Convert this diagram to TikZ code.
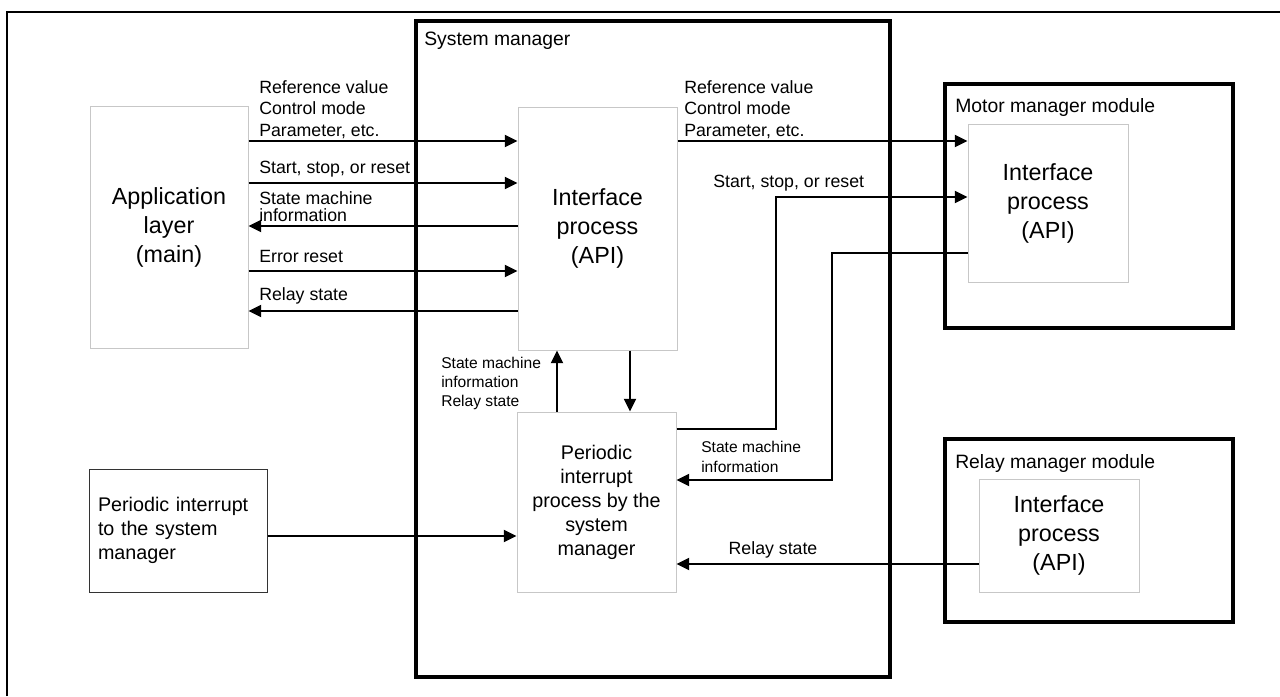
\documentclass[tikz,border=0pt]{standalone}
\usepackage{fontspec}
\setmainfont{Liberation Sans}
\usetikzlibrary{arrows.meta,fit}
\begin{document}
\begin{tikzpicture}[x=0.75pt,y=-0.75pt,
  arr/.style={line width=1.4pt,-{Triangle[length=9.5pt,width=9pt]}},
  heavybox/.style={draw,line width=3.2pt,inner sep=0pt},
  lightbox/.style={draw=black!22,line width=0.75pt,align=center},
  bigtxt/.style={font=\fontsize{17.5pt}{21.75pt}\selectfont},
  midtxt/.style={font=\fontsize{14.8pt}{18pt}\selectfont},
  ttl/.style={inner sep=0pt,anchor=west,font=\fontsize{14.5pt}{17pt}\selectfont},
  lbl/.style={inner sep=0pt,anchor=west,align=left,font=\fontsize{13.3pt}{16.1pt}\selectfont},
  smalllbl/.style={inner sep=0pt,anchor=west,align=left,font=\fontsize{11.7pt}{14.25pt}\selectfont}
]
\useasboundingbox (0,0) rectangle (1280,696);
\fill[white] (0,0) rectangle (1280,696);
\draw[line width=1.8pt] (7,696) -- (7,12) -- (1280,12);

% heavy frames
\node[heavybox,fit={(416,21) (890,677)}] (sys) {};
\node[heavybox,fit={(945,84) (1233,328)}] (motor) {};
\node[heavybox,fit={(945,439) (1233,622)}] (relay) {};
\node[ttl] (systtl) at (424,41) {System manager};
\node[ttl] (mottl) at (955,108) {Motor manager module};
\node[ttl] (reltl) at (955,463) {Relay manager module};

% boxes
\node[lightbox,bigtxt,minimum width=118.5pt,minimum height=181.5pt] (app) at (169,227) {Application\\layer\\(main)};
\node[lightbox,bigtxt,minimum width=119.25pt,minimum height=182.25pt] (iface) at (597.5,228.5) {Interface\\process\\(API)};
\node[lightbox,midtxt,minimum width=119.25pt,minimum height=135pt] (per) at (596.5,502) {Periodic\\interrupt\\process by the\\system\\manager};
\node[draw=black!80,line width=0.75pt,midtxt,align=left,text width=120pt,inner xsep=6.75pt,minimum height=92.25pt] (pint) at (178,530.5) {Periodic interrupt\\to the system\\manager};
\node[lightbox,bigtxt,minimum width=120pt,minimum height=118.5pt] (mif) at (1048,203) {Interface\\process\\(API)};
\node[lightbox,bigtxt,minimum width=120pt,minimum height=84.75pt] (rif) at (1059,535.5) {Interface\\process\\(API)};

% helper levels
\coordinate (r1) at (0,141);
\coordinate (r2) at (0,183);
\coordinate (r3) at (0,226);
\coordinate (r4) at (0,271);
\coordinate (r5) at (0,311);
\coordinate (m2) at (0,197);
\coordinate (m3) at (0,253);
\coordinate (k1) at (776,429);
\coordinate (k2) at (832,480);
\coordinate (u) at (557,0);
\coordinate (d) at (630,0);
\coordinate (pi) at (0,536);
\coordinate (rl) at (0,564);

% connectors
\draw[arr] (app.east |- r1) -- (iface.west |- r1);
\draw[arr] (app.east |- r2) -- (iface.west |- r2);
\draw[arr] (iface.west |- r3) -- (app.east |- r3);
\draw[arr] (app.east |- r4) -- (iface.west |- r4);
\draw[arr] (iface.west |- r5) -- (app.east |- r5);
\draw[arr] (iface.east |- r1) -- (mif.west |- r1);
\draw[arr] (per.east |- k1) -- (k1) -- (k1 |- m2) -- (mif.west |- m2);
\draw[arr] (mif.west |- m3) -- (k2 |- m3) -- (k2) -- (per.east |- k2);
\draw[arr] (per.north -| u) -- (iface.south -| u);
\draw[arr] (iface.south -| d) -- (per.north -| d);
\draw[arr] (pint.east |- pi) -- (per.west |- pi);
\draw[arr] (rif.west |- rl) -- (per.east |- rl);

% labels
\node[lbl] (l1) at (259,109.5) {Reference value\\Control mode\\Parameter, etc.};
\node[lbl] (l2) at (259,169) {Start, stop, or reset};
\node[lbl,font=\fontsize{13.3pt}{12.75pt}\selectfont] (l3) at (259,206.5) {State machine\\information};
\node[lbl] (l4) at (259,256) {Error reset};
\node[lbl] (l5) at (259,296) {Relay state};
\node[lbl] (l6) at (684,109.5) {Reference value\\Control mode\\Parameter, etc.};
\node[lbl] (l7) at (713,183) {Start, stop, or reset};
\node[smalllbl] (l8) at (441,383) {State machine\\information\\Relay state};
\node[smalllbl,font=\fontsize{11.7pt}{15pt}\selectfont] (l9) at (701,457) {State machine\\information};
\node[lbl,anchor=center] (l10) at (773,550) {Relay state};
\end{tikzpicture}
\end{document}
